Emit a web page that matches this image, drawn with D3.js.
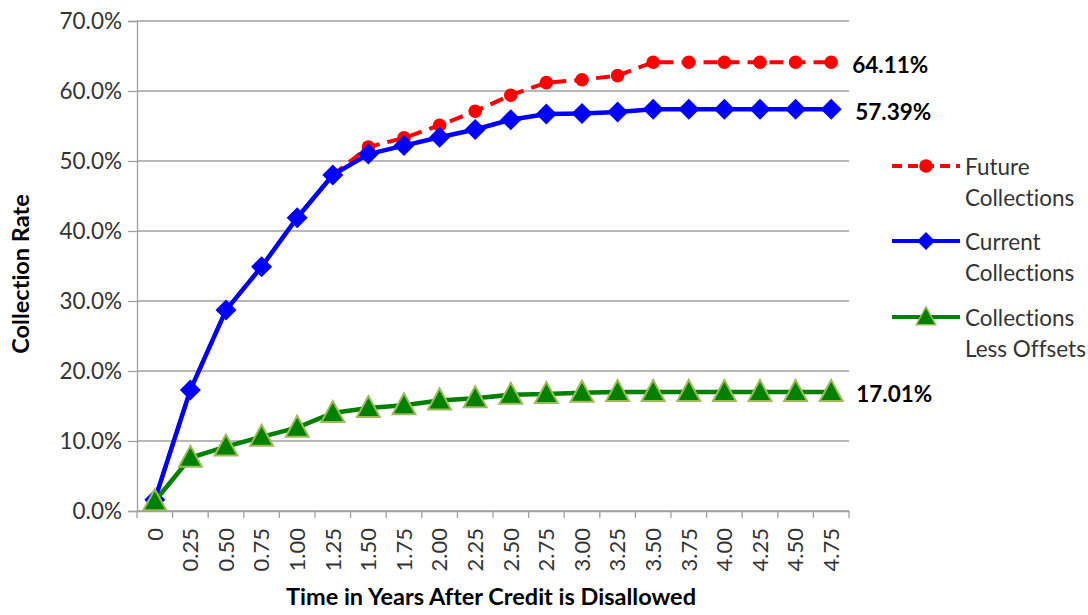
<!DOCTYPE html>
<html><head><meta charset="utf-8">
<script src="https://cdn.jsdelivr.net/npm/d3@7"></script>
<style>body{margin:0;background:#fff}svg{display:block}text{font-variant-ligatures:none;font-feature-settings:"liga" 0}</style>
</head><body>
<svg id="chart" width="1088" height="615"></svg>
<script>
const categories = ["0","0.25","0.50","0.75","1.00","1.25","1.50","1.75","2.00","2.25","2.50","2.75","3.00","3.25","3.50","3.75","4.00","4.25","4.50","4.75"];
const futureCollections  = [1.6,17.3,28.7,34.9,41.9,48.0,52.0,53.3,55.1,57.1,59.4,61.2,61.6,62.2,64.11,64.11,64.11,64.11,64.11,64.11];
const currentCollections = [1.6,17.3,28.7,34.9,41.9,48.0,51.0,52.2,53.4,54.5,55.9,56.7,56.8,57.0,57.39,57.39,57.39,57.39,57.39,57.39];
const lessOffsets        = [1.4,7.6,9.2,10.6,11.9,14.0,14.7,15.1,15.8,16.1,16.6,16.7,16.9,17.0,17.01,17.01,17.01,17.01,17.01,17.01];
const yTicks = [0,10,20,30,40,50,60,70];
const seriesNames = [["Future","Collections"],["Current","Collections"],["Collections","Less Offsets"]];
const endLabels = ["64.11%","57.39%","17.01%"];

const svg = d3.select("#chart");
const font = "Lato, 'Open Sans', sans-serif";
const x = d3.scaleBand().domain(categories).range([137,849]).padding(0);
const y = d3.scaleLinear().domain([0,70]).range([511,21]);
const cx = c => x(c) + x.bandwidth()/2;

// gridlines
svg.append("g").selectAll("line").data(yTicks).join("line")
  .attr("x1",137).attr("x2",849).attr("y1",d=>y(d)).attr("y2",d=>y(d))
  .attr("stroke","#a0a0a0").attr("stroke-width",1.3);

// y axis
const yAxis = svg.append("g").attr("transform","translate(137,0)")
  .call(d3.axisLeft(y).tickValues(yTicks).tickSize(9).tickPadding(6).tickFormat(d=>d.toFixed(1)+"%"));
yAxis.select(".domain").attr("stroke","#a0a0a0").attr("stroke-width",1.3);
yAxis.selectAll(".tick line").attr("stroke","#a0a0a0").attr("stroke-width",1.3);
yAxis.selectAll("text").attr("font-family",font).attr("font-size",22.5).attr("fill","#333");

// x axis
const xAxis = svg.append("g").attr("transform","translate(0,511)")
  .call(d3.axisBottom(x).tickSize(0).tickSizeOuter(0));
xAxis.select(".domain").attr("stroke","#a0a0a0").attr("stroke-width",1.3);
xAxis.selectAll(".tick text")
  .attr("font-family",font).attr("font-size",22).attr("fill","#333")
  .attr("text-anchor","end").attr("dy","0.35em")
  .attr("transform","translate(0,17) rotate(-90)").attr("x",0).attr("y",0);
// boundary ticks
const bounds = categories.map(c=>x(c)).concat([849]);
svg.append("g").selectAll("line").data(bounds).join("line")
  .attr("x1",d=>d).attr("x2",d=>d).attr("y1",511).attr("y2",518)
  .attr("stroke","#a0a0a0").attr("stroke-width",1.3);

// axis titles
svg.append("text").attr("x",491).attr("y",605).attr("text-anchor","middle")
  .attr("font-family",font).attr("font-weight","bold").attr("font-size",23.5).attr("fill","#000")
  .text("Time in Years After Credit is Disallowed");
svg.append("text").attr("transform","translate(29,274) rotate(-90)").attr("text-anchor","middle")
  .attr("font-family",font).attr("font-weight","bold").attr("font-size",23.5).attr("fill","#000")
  .text("Collection Rate");

const line = d3.line().x((d,i)=>cx(categories[i])).y(d=>y(d));

// future (red dashed, circles)
svg.append("path").datum(futureCollections).attr("d",line).attr("fill","none")
  .attr("stroke","#ff0000").attr("stroke-width",4).attr("stroke-dasharray","14,8");
svg.append("g").selectAll("circle").data(futureCollections).join("circle")
  .attr("cx",(d,i)=>cx(categories[i])).attr("cy",d=>y(d)).attr("r",6.8).attr("fill","#ff0000");

// current (blue, diamonds)
svg.append("path").datum(currentCollections).attr("d",line).attr("fill","none")
  .attr("stroke","#0000ff").attr("stroke-width",4.5);
const diamond = (px,py,r)=>`M${px},${py-r}L${px+r},${py}L${px},${py+r}L${px-r},${py}Z`;
svg.append("g").selectAll("path").data(currentCollections).join("path")
  .attr("d",(d,i)=>diamond(cx(categories[i]),y(d),10.5)).attr("fill","#0000ff");

// less offsets (green, triangles)
svg.append("path").datum(lessOffsets).attr("d",line).attr("fill","none")
  .attr("stroke","#008000").attr("stroke-width",4.5);
const tri = (px,py,s)=>`M${px},${py-12*s}L${px+11.5*s},${py+9*s}L${px-11.5*s},${py+9*s}Z`;
svg.append("g").selectAll("path").data(lessOffsets).join("path")
  .attr("d",(d,i)=>tri(cx(categories[i]),y(d),1)).attr("fill","#008000")
  .attr("stroke","#9bbb59").attr("stroke-width",2);

// end labels
const lastVals = [futureCollections, currentCollections, lessOffsets].map(a=>a[a.length-1]);
const lastX = cx(categories[categories.length-1]);
svg.append("g").selectAll("text").data(endLabels).join("text")
  .attr("x",(d,i)=>lastX + [21,24,25][i]).attr("y",(d,i)=>y(lastVals[i])+2)
  .attr("dominant-baseline","central")
  .attr("font-family",font).attr("font-weight","bold").attr("font-size",22.5).attr("fill","#000")
  .text(d=>d);

// legend
const legend = svg.append("g");
const legY = [166,241,317];
seriesNames.forEach((nm,i)=>{
  const g = legend.append("g").attr("transform",`translate(0,${legY[i]})`);
  const ln = g.append("line").attr("x1",892).attr("x2",960).attr("y1",0).attr("y2",0)
    .attr("stroke-width",4);
  if(i===0){ ln.attr("stroke","#ff0000").attr("stroke-dasharray","10,6");
    g.append("circle").attr("cx",926).attr("cy",0).attr("r",6.8).attr("fill","#ff0000"); }
  if(i===1){ ln.attr("stroke","#0000ff");
    g.append("path").attr("d",diamond(926,0,9)).attr("fill","#0000ff"); }
  if(i===2){ ln.attr("stroke","#008000");
    g.append("path").attr("d",tri(926,0,0.85)).attr("fill","#008000").attr("stroke","#9bbb59").attr("stroke-width",1.5); }
  nm.forEach((t,j)=>{
    g.append("text").attr("x",965).attr("y",j*31).attr("dominant-baseline","central")
      .attr("font-family",font).attr("font-size",22.5).attr("fill","#333").text(t);
  });
});
</script>
</body></html>
